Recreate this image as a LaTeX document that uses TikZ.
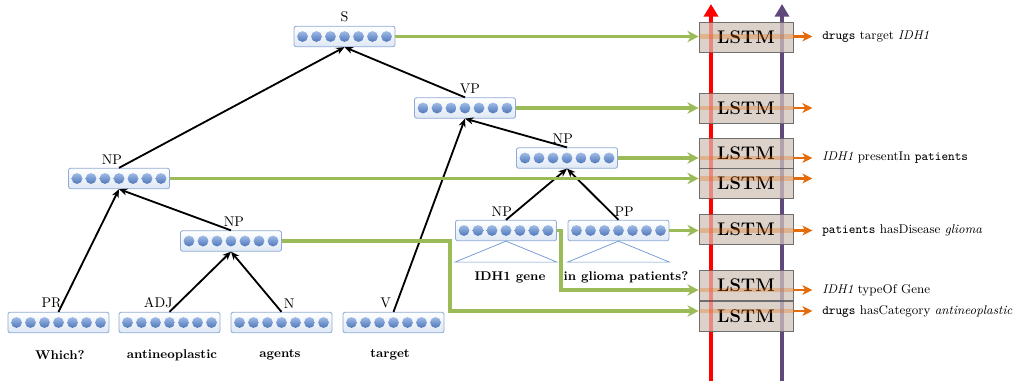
\documentclass[tikz,border=0pt]{standalone}
\usetikzlibrary{arrows.meta}

\definecolor{vecedge}{RGB}{142,170,214}
\definecolor{vecfill}{RGB}{222,232,245}
\definecolor{balltop}{RGB}{160,188,230}
\definecolor{ballbot}{RGB}{78,118,186}
\definecolor{triblue}{RGB}{110,150,210}
\definecolor{feedgreen}{RGB}{155,187,89}
\definecolor{factorange}{RGB}{228,108,10}
\definecolor{upred}{RGB}{255,0,0}
\definecolor{uppurple}{RGB}{95,73,122}
\definecolor{lstmfill}{RGB}{221,210,202}
\definecolor{lstmedge}{RGB}{110,110,110}

\begin{document}
\begin{tikzpicture}
        [x=0.025cm, y=-0.025cm,
         vec/.style={draw=vecedge, line width=0.6pt, rounded corners=1.5pt, top color=white, bottom color=vecfill, minimum width=2.525cm, minimum height=0.51cm, inner sep=0},
         every label/.style={font=\normalsize, inner sep=2.5pt},
         word/.style={font=\small\bfseries},
         lstm/.style={draw=lstmedge, fill=lstmfill, minimum width=2.35cm, minimum height=0.76cm, inner sep=0, font=\fontsize{13}{15}\selectfont\bfseries},
         fact/.style={font=\small, anchor=west, inner sep=0},
         tree/.style={-{Stealth[length=6pt,width=5pt]}, line width=1.3pt},
         feed/.style={draw=feedgreen, line width=2.2pt, -{Stealth[length=8pt,width=8pt,inset=2.5pt]}},
         band/.style={draw=factorange, line width=3pt, opacity=0.3},
         emit/.style={draw=factorange, line width=2pt, -{Stealth[length=7pt,width=7pt,inset=2pt]}},
         flow/.style={line width=2.8pt, -{Triangle[length=9pt,width=10pt]}},
         ghost/.style={line width=2.8pt, opacity=0.35},
         tri/.style={draw=triblue, line width=0.5pt}]

        \useasboundingbox (0,0) rectangle (1019,381);

        \node[vec, label=above:{S}] (S) at (344.5,36.5) {};
        \node[vec, label={[xshift=3.5pt]above:{VP}}] (VP) at (465,108) {};
        \node[vec, label={[xshift=-5pt]above:{NP}}] (NPl) at (119,178.5) {};
        \node[vec, label={[xshift=2pt]above:{NP}}] (NPm) at (231,241) {};
        \node[vec, label={[xshift=-3pt]above:{NP}}] (NPr) at (567,158) {};
        \node[vec, label={[xshift=-3pt]above:{NP}}] (NPg) at (506,230.5) {};
        \node[vec, label={[xshift=4pt]above:{PP}}] (PP) at (618.5,230.5) {};
        \node[vec, label={[xshift=-5pt]above:{PR}}] (PR) at (58.5,322.5) {};
        \node[vec, label={[xshift=-8pt]above:{ADJ}}] (ADJ) at (169.5,322.5) {};
        \node[vec, label={[xshift=5.5pt]above:{N}}] (N) at (281.5,322.5) {};
        \node[vec, label={[xshift=-5.5pt]above:{V}}] (V) at (393.5,322.5) {};

        \foreach \b in {S,VP,NPl,NPm,NPr,NPg,PP,PR,ADJ,N,V}
          \foreach \k in {-3,...,3}
            \shade[top color=balltop, bottom color=ballbot] ([xshift=\k*0.35cm]\b.center) circle (0.135cm);

        \draw[tri] (NPg.south) -- ++(-51,21) -- ++(102,0) -- cycle;
        \draw[tri] (PP.south) -- ++(-51,21) -- ++(102,0) -- cycle;

        \node[word] (wWhich) at (60,355) {Which?};
        \node[word] (wAnti) at (172,355) {antineoplastic};
        \node[word] (wAgents) at (280,355) {agents};
        \node[word] (wTarget) at (390,355) {target};
        \node[word] (wGene) at (510,277) {IDH1 gene};
        \node[word] (wGlioma) at (626,277) {in glioma patients?};

        \draw[tree] (PR.north) -- (NPl.south);
        \draw[tree] (ADJ.north) -- (NPm.south);
        \draw[tree] (N.north) -- (NPm.south);
        \draw[tree] (NPm.north) -- (NPl.south);
        \draw[tree] (NPl.north) -- (S.south);
        \draw[tree] (V.north) -- (VP.south);
        \draw[tree] (NPg.north) -- (NPr.south);
        \draw[tree] (PP.north) -- (NPr.south);
        \draw[tree] (NPr.north) -- (VP.south);
        \draw[tree] (VP.north) -- (S.south);

        \coordinate (redfoot) at (711,381);
        \coordinate (redhead) at (711,4);
        \coordinate (purplefoot) at (782,381);
        \coordinate (purplehead) at (782,4);
        \draw[flow, draw=upred] (redfoot) -- (redhead);
        \draw[flow, draw=uppurple] (purplefoot) -- (purplehead);

        \node[lstm] (L1) at (746,37.5) {};
        \node[lstm] (L2) at (746,108) {};
        \node[lstm] (L3) at (746,153) {};
        \node[lstm] (L4) at (746,183.5) {};
        \node[lstm] (L5) at (746,229.5) {};
        \node[lstm] (L6) at (746,285.5) {};
        \node[lstm] (L7) at (746,316) {};

        \foreach \cell in {L1,L2,L3,L4,L5,L6,L7} {
          \draw[ghost, draw=upred] (\cell.north -| redfoot) -- (\cell.south -| redfoot);
          \draw[ghost, draw=uppurple] (\cell.north -| purplefoot) -- (\cell.south -| purplefoot);
          \node[font=\fontsize{13}{15}\selectfont\bfseries] (t\cell) at (\cell) {LSTM};
        }

        \coordinate (k6) at (561,290);
        \coordinate (k7) at (450,311);

        \draw[feed] (S.east) -- (S -| L1.west);
        \draw[feed] (VP.east) -- (VP -| L2.west);
        \draw[feed] (NPr.east) -- (NPr -| L3.west);
        \draw[feed] (NPl.east) -- (NPl -| L4.west);
        \draw[feed] (PP.east) -- (PP -| L5.west);
        \draw[feed] (NPg.east) -| (k6) -- (k6 -| L6.west);
        \draw[feed] (NPm.east) -| (k7) -- (k7 -| L7.west);

        \foreach \src/\cell in {S/L1, VP/L2, NPr/L3, NPl/L4, PP/L5, k6/L6, k7/L7} {
          \draw[band] (\src -| \cell.west) -- (\src -| \cell.east);
          \draw[emit] (\src -| \cell.east) -- ++(19,0);
        }

        \node[fact] (f1) at (822,36.5) {\texttt{drugs} target \textit{IDH1}};
        \node[fact] (f3) at (822,158) {\textit{IDH1} presentIn \texttt{patients}};
        \node[fact] (f5) at (822,230.5) {\texttt{patients} hasDisease \textit{glioma}};
        \node[fact] (f6) at (822,290) {\textit{IDH1} typeOf Gene};
        \node[fact] (f7) at (822,311) {\texttt{drugs} hasCategory \textit{antineoplastic}};

      \end{tikzpicture}
\end{document}
